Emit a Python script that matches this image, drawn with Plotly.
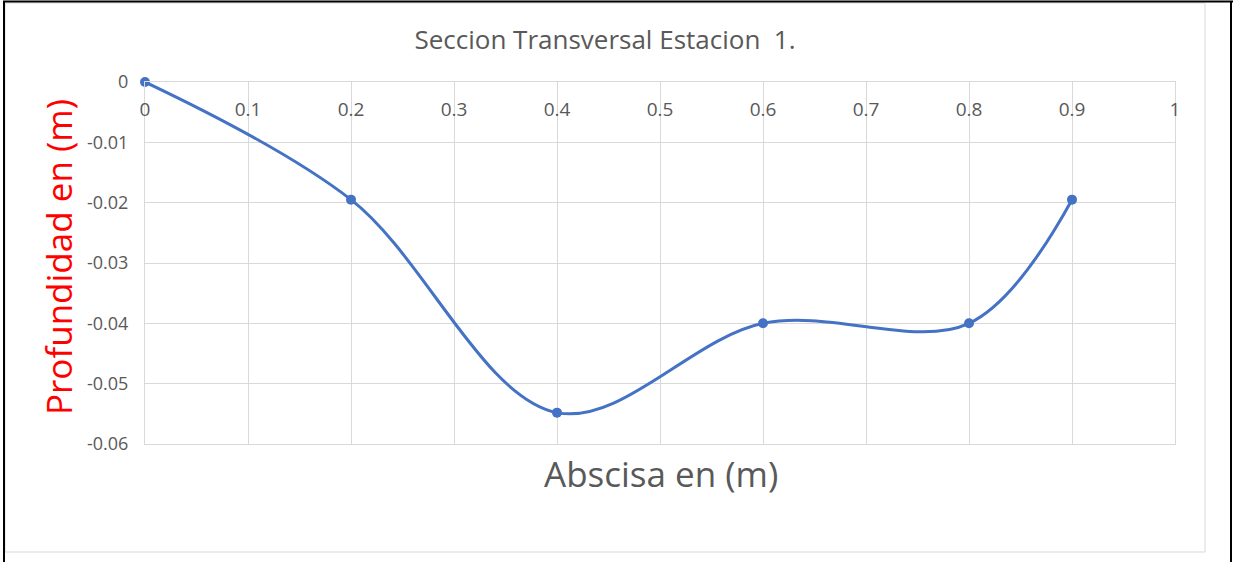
import plotly.graph_objects as go

abscisa = [0, 0.2, 0.4, 0.6, 0.8, 0.9]
profundidad = [0, -0.0195, -0.0548, -0.04, -0.04, -0.0195]
x_ticks = [0, 0.1, 0.2, 0.3, 0.4, 0.5, 0.6, 0.7, 0.8, 0.9, 1]
x_tick_labels = ["0", "0.1", "0.2", "0.3", "0.4", "0.5", "0.6", "0.7", "0.8", "0.9", "1"]
y_ticks = [0, -0.01, -0.02, -0.03, -0.04, -0.05, -0.06]
y_tick_labels = ["0", "-0.01", "-0.02", "-0.03", "-0.04", "-0.05", "-0.06"]

FONT = "Open Sans"
GRAY = "#595959"
GRID = "#d9d9d9"

fig = go.Figure()
fig.add_trace(go.Scatter(
    x=abscisa, y=profundidad, mode="lines+markers",
    line=dict(color="#4472C4", width=3, shape="spline", smoothing=1.0),
    marker=dict(color="#4472C4", size=10),
    showlegend=False, hoverinfo="x+y", cliponaxis=False,
))

fig.update_layout(
    width=1233, height=562,
    paper_bgcolor="white", plot_bgcolor="white",
    margin=dict(l=145, r=58, t=82, b=118),
    title=dict(text="Seccion Transversal Estacion  1.", x=(605 - 0) / 1233, xanchor="center",
               y=1 - 40 / 562, yanchor="middle",
               font=dict(family=FONT, size=26, color=GRAY)),
    xaxis=dict(
        range=[0, 1], tickvals=x_ticks, ticktext=x_tick_labels,
        side="top", ticklabelposition="inside", ticklabeloverflow="allow",
        ticks="inside", ticklen=22, tickcolor="rgba(0,0,0,0)",
        showgrid=True, gridcolor=GRID, gridwidth=1,
        zeroline=False, showline=True, linecolor=GRID, linewidth=1, mirror=True,
        tickfont=dict(family=FONT, size=19, color=GRAY),
        fixedrange=True,
    ),
    yaxis=dict(
        range=[-0.06, 0], tickvals=y_ticks, ticktext=y_tick_labels,
        ticklabeloverflow="allow",
        showgrid=True, gridcolor=GRID, gridwidth=1,
        zeroline=False, showline=True, linecolor=GRID, linewidth=1, mirror=True,
        ticks="outside", ticklen=12, tickcolor="rgba(0,0,0,0)",
        tickfont=dict(family=FONT, size=18, color=GRAY),
        fixedrange=True,
    ),
    font=dict(family=FONT),
)

# x-axis title (below plot area)
fig.add_annotation(text="Abscisa en (m)", xref="paper", yref="paper",
                   x=(661 - 145) / 1030, y=-(474 - 444) / 362,
                   xanchor="center", yanchor="middle", showarrow=False,
                   font=dict(family=FONT, size=35, color=GRAY))
# y-axis title
fig.add_annotation(text="Profundidad en (m)", xref="paper", yref="paper",
                   x=-(145 - 58) / 1030, y=(444 - 257) / 362,
                   xanchor="center", yanchor="middle", showarrow=False, textangle=-90,
                   font=dict(family=FONT, size=35, color="#FF0000"))

# chart frame (light gray) and screenshot edges (black)
fig.add_shape(type="rect", xref="paper", yref="paper",
              x0=-(145 - 5) / 1030, x1=(1205 - 145) / 1030,
              y0=-(552 - 444) / 362, y1=(444 - 3) / 362,
              line=dict(color=GRID, width=1), layer="below")
fig.add_shape(type="line", xref="paper", yref="paper",
              x0=-(145 - 3) / 1030, x1=(1233 - 145) / 1030,
              y0=(444 - 1.5) / 362, y1=(444 - 1.5) / 362,
              line=dict(color="black", width=2))
fig.add_shape(type="line", xref="paper", yref="paper",
              x0=-(145 - 4) / 1030, x1=-(145 - 4) / 1030,
              y0=-(562 - 444) / 362, y1=(444 - 1) / 362,
              line=dict(color="black", width=2))
fig.add_shape(type="line", xref="paper", yref="paper",
              x0=(1231 - 145) / 1030, x1=(1231 - 145) / 1030,
              y0=-(562 - 444) / 362, y1=(444 - 1) / 362,
              line=dict(color="black", width=2))

fig.write_html("out.html", config={"displayModeBar": False},
               post_script="document.body.style.margin='0';document.body.style.overflow='hidden';")
